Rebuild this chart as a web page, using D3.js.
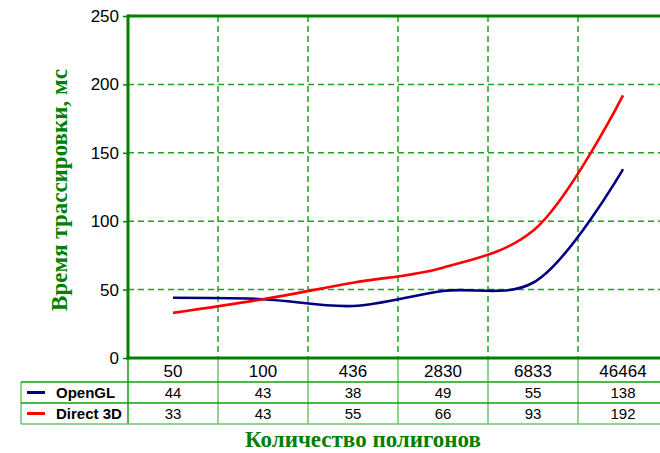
<!DOCTYPE html>
<html>
<head>
<meta charset="utf-8">
<script src="https://cdn.jsdelivr.net/npm/d3@7"></script>
<style>
  html, body { margin: 0; padding: 0; background: #fff; }
  svg { display: block; }
</style>
</head>
<body>
<svg id="chart" width="660" height="453"></svg>
<script>
// Polygon counts (categories) and rendering times per API, ms
const categories = ["50", "100", "436", "2830", "6833", "46464"];
const openglValues = [44, 43, 38, 49, 55, 138];
const direct3dValues = [33, 43, 55, 66, 93, 192];
const seriesNames = ["OpenGL", "Direct 3D"];
const seriesColors = ["#000080", "#ff0000"];
const yTicks = [0, 50, 100, 150, 200, 250];

const series = [
  { name: seriesNames[0], color: seriesColors[0], values: openglValues },
  { name: seriesNames[1], color: seriesColors[1], values: direct3dValues }
];

const svg = d3.select("#chart");
const W = 660;
const plot = { left: 128, top: 16, bottom: 358, right: 668 };
const tableLeft = 21;
const rowLines = [382, 403, 424];

const axisGreen = "#008000";
const gridGreen = "#22a022";
const tableGreen = "#11a011";
const lightGreen = "#6cc46c";

const x = d3.scaleBand().domain(categories).range([plot.left, plot.right]);
const y = d3.scaleLinear().domain([0, 250]).range([plot.bottom, plot.top]);

// Vertical dashed grid at category boundaries
const bounds = categories.slice(1).map(c => x(c));
svg.append("g").selectAll("line").data(bounds).join("line")
  .attr("x1", d => d).attr("x2", d => d)
  .attr("y1", plot.top).attr("y2", plot.bottom)
  .attr("stroke", gridGreen).attr("stroke-width", 1.5)
  .attr("stroke-dasharray", "6,4");

// Horizontal dashed grid
svg.append("g").selectAll("line").data(yTicks.filter(t => t > 0 && t < 250)).join("line")
  .attr("x1", plot.left).attr("x2", W)
  .attr("y1", d => y(d)).attr("y2", d => y(d))
  .attr("stroke", gridGreen).attr("stroke-width", 1.5)
  .attr("stroke-dasharray", "6,4");

// Y axis
const yAxis = svg.append("g")
  .attr("transform", `translate(${plot.left},0)`)
  .call(d3.axisLeft(y).tickValues(yTicks).tickSize(5).tickPadding(4));
yAxis.select(".domain").remove();
yAxis.selectAll(".tick line").attr("stroke", axisGreen).attr("stroke-width", 1.5);
yAxis.selectAll(".tick text")
  .attr("font-family", "Liberation Sans, Arial, sans-serif")
  .attr("font-size", 17).attr("fill", "#000");

// Plot frame: top, left and bottom lines
svg.append("line").attr("x1", plot.left).attr("x2", W)
  .attr("y1", plot.top).attr("y2", plot.top)
  .attr("stroke", axisGreen).attr("stroke-width", 3);
svg.append("line").attr("x1", plot.left).attr("x2", plot.left)
  .attr("y1", plot.top - 1.5).attr("y2", plot.bottom + 1.5)
  .attr("stroke", axisGreen).attr("stroke-width", 3);

// Data table: vertical separators
svg.append("g").selectAll("line").data(bounds).join("line")
  .attr("x1", d => d).attr("x2", d => d)
  .attr("y1", plot.bottom).attr("y2", rowLines[2])
  .attr("stroke", lightGreen).attr("stroke-width", 1.5);
svg.append("line").attr("x1", plot.left).attr("x2", plot.left)
  .attr("y1", plot.bottom).attr("y2", rowLines[2])
  .attr("stroke", tableGreen).attr("stroke-width", 1.5);
svg.append("line").attr("x1", tableLeft).attr("x2", tableLeft)
  .attr("y1", rowLines[0]).attr("y2", rowLines[2])
  .attr("stroke", lightGreen).attr("stroke-width", 1.5);

// Data table: row separators
svg.append("g").selectAll("line").data(rowLines).join("line")
  .attr("x1", tableLeft).attr("x2", W)
  .attr("y1", d => d).attr("y2", d => d)
  .attr("stroke", (d, i) => i === 2 ? lightGreen : tableGreen)
  .attr("stroke-width", 1.5);

// Bottom axis line
svg.append("line").attr("x1", plot.left - 1.5).attr("x2", W)
  .attr("y1", plot.bottom).attr("y2", plot.bottom)
  .attr("stroke", axisGreen).attr("stroke-width", 3);

// Category labels
svg.append("g").selectAll("text").data(categories).join("text")
  .attr("x", d => x(d) + x.bandwidth() / 2)
  .attr("y", 377)
  .attr("text-anchor", "middle")
  .attr("font-family", "Liberation Sans, Arial, sans-serif")
  .attr("font-size", 17)
  .text(d => d);

// Series curves
const line = d3.line()
  .x((d, i) => x(categories[i]) + x.bandwidth() / 2)
  .y(d => y(d))
  .curve(d3.curveCatmullRom.alpha(0.5));

svg.append("g").selectAll("path").data(series).join("path")
  .attr("d", d => line(d.values))
  .attr("fill", "none")
  .attr("stroke", d => d.color)
  .attr("stroke-width", 2.6)
  .attr("stroke-linecap", "butt");

// Table rows: legend keys and values
const rowMid = [392.5, 413.5];
series.forEach((s, r) => {
  const g = svg.append("g");
  g.append("line")
    .attr("x1", 27).attr("x2", 45)
    .attr("y1", rowMid[r]).attr("y2", rowMid[r])
    .attr("stroke", s.color).attr("stroke-width", 3);
  g.append("text")
    .attr("x", 56).attr("y", rowMid[r] + 5.5)
    .attr("font-family", "Liberation Sans, Arial, sans-serif")
    .attr("font-weight", "bold").attr("font-size", 15)
    .text(s.name);
  g.selectAll("text.v").data(s.values).join("text")
    .attr("class", "v")
    .attr("x", (d, i) => x(categories[i]) + x.bandwidth() / 2)
    .attr("y", rowMid[r] + 5.5)
    .attr("text-anchor", "middle")
    .attr("font-family", "Liberation Sans, Arial, sans-serif")
    .attr("font-size", 15)
    .text(d => d);
});

// Axis titles
svg.append("text")
  .attr("transform", "translate(67,190) rotate(-90)")
  .attr("text-anchor", "middle")
  .attr("font-family", "Liberation Serif, Times New Roman, serif")
  .attr("font-weight", "bold").attr("font-size", 23)
  .attr("fill", axisGreen)
  .text("Время трассировки, мс");

svg.append("text")
  .attr("x", 363).attr("y", 447)
  .attr("text-anchor", "middle")
  .attr("font-family", "Liberation Serif, Times New Roman, serif")
  .attr("font-weight", "bold").attr("font-size", 23)
  .attr("fill", axisGreen)
  .text("Количество полигонов");
</script>
</body>
</html>
